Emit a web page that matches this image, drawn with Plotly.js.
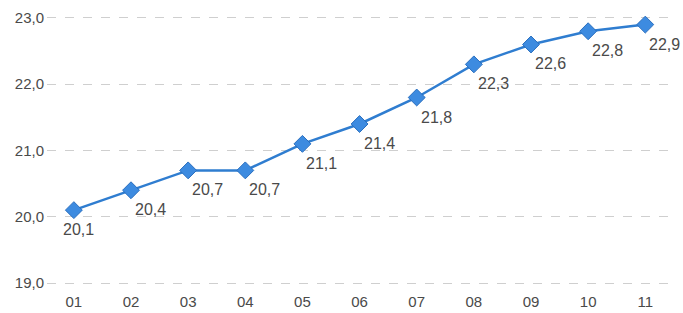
<!DOCTYPE html>
<html><head><meta charset="utf-8">
<script src="https://cdn.plot.ly/plotly-3.0.1.min.js"></script>
<style>html,body{margin:0;padding:0;background:#fff}#chart{width:683px;height:313px}</style>
</head><body><div id="chart"></div>
<script>
var categories = ["01","02","03","04","05","06","07","08","09","10","11"];
var values = [20.1,20.4,20.7,20.7,21.1,21.4,21.8,22.3,22.6,22.8,22.9];
var yTicks = [19,20,21,22,23];
var yTickLabels = ["19,0","20,0","21,0","22,0","23,0"];
var labels = values.map(function(v){return v.toFixed(1).replace('.', ',');});

var trace = {
  x: categories, y: values, type: "scatter", mode: "lines+markers",
  line: {color: "#2f7dd0", width: 2.5},
  marker: {symbol: "diamond", size: 13, color: "#3d8be0", line: {color: "#2a6fbf", width: 1}},
  cliponaxis: false, hoverinfo: "skip"
};
// on a category axis, category i sits at position i
var annotations = categories.map(function(c, i){
  return {x: i, y: values[i], xref: "x", yref: "y", text: labels[i], showarrow: false,
          xanchor: i === 0 ? "center" : "left", yanchor: "top",
          xshift: i === 0 ? 5 : 2, yshift: -9,
          font: {family: "Liberation Sans, Arial, sans-serif", size: 16, color: "#4a4a4a"}};
});
var layout = {
  width: 683, height: 313,
  margin: {l: 47, r: 8, t: 16, b: 28},
  paper_bgcolor: "#fff", plot_bgcolor: "#fff",
  showlegend: false,
  annotations: annotations,
  font: {family: "Liberation Sans, Arial, sans-serif", size: 15, color: "#4a4a4a"},
  xaxis: {type: "category", range: [-0.47, 10.52], showgrid: false, zeroline: false, showline: false,
          ticks: "", tickfont: {size: 15, color: "#4a4a4a"}, ticklabelstandoff: 6},
  yaxis: {range: [18.97, 23.03], tickvals: yTicks, ticktext: yTickLabels, showgrid: true,
          gridcolor: "#cfcfcf", gridwidth: 1, griddash: "dash", zeroline: false, showline: false,
          ticks: "", tickfont: {size: 15, color: "#4a4a4a"}, ticklabelstandoff: 2}
};
Plotly.newPlot("chart", [trace], layout, {displayModeBar: false, staticPlot: true});
</script></body></html>
